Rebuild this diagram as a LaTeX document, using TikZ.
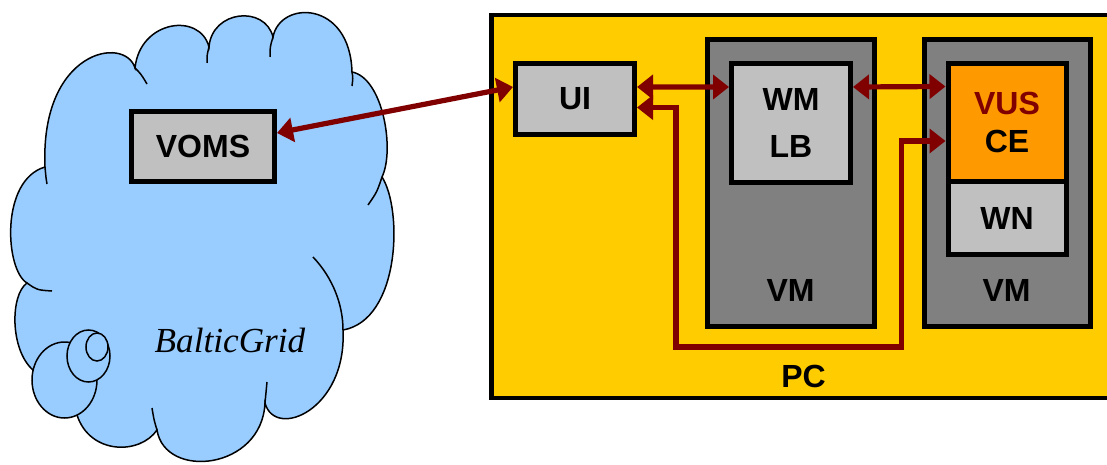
\documentclass[tikz,border=0pt]{standalone}
\usepackage{fontspec}
\setmainfont{Liberation Sans}
\newfontfamily\serifit{Liberation Serif}
\usetikzlibrary{arrows.meta}
\definecolor{cloudblue}{HTML}{99CCFF}
\definecolor{pcyellow}{HTML}{FFCC00}
\definecolor{vmgray}{HTML}{808080}
\definecolor{boxgray}{HTML}{C0C0C0}
\definecolor{ceorange}{HTML}{FF9900}
\definecolor{linkred}{HTML}{800000}
\begin{document}
\begin{tikzpicture}[x=0.5pt,y=-0.5pt,
  box/.style={draw=black, line width=2.5pt, fill=boxgray, inner sep=0pt, align=center,
    font=\fontsize{16pt}{24pt}\selectfont\bfseries},
  vmbox/.style={draw=black, line width=2.5pt, fill=vmgray, inner sep=0pt},
  pcbox/.style={draw=black, line width=2.3pt, fill=pcyellow, inner sep=0pt},
  lbl/.style={inner sep=0pt, font=\fontsize{16pt}{19pt}\selectfont\bfseries},
  tipa/.tip={Triangle[length=8pt,width=12pt]},
  link/.style={draw=linkred, line width=2.6pt, tipa-tipa},
  cloudline/.style={draw=black, line width=0.75pt}
]
\useasboundingbox (0,0) rectangle (1107,465);
\clip (0,0) rectangle (1107,465);

% ---------- cloud ----------
\filldraw[fill=cloudblue, cloudline]
  (45,167) .. controls (40,50) and (125,35) .. (135,68)
  .. controls (140,20) and (200,12) .. (209,47)
  .. controls (212,10) and (265,5) .. (273,37)
  .. controls (280,0) and (350,0) .. (352,72)
  .. controls (383,78) and (395,150) .. (382,177)
  .. controls (403,210) and (400,320) .. (343,330)
  .. controls (347,410) and (275,440) .. (265,403)
  .. controls (262,470) and (165,480) .. (157,430)
  .. controls (140,455) and (90,455) .. (77,415)
  .. controls (55,405) and (40,390) .. (33,370)
  .. controls (10,350) and (10,295) .. (27,283)
  .. controls (5,270) and (0,180) .. (45,167) -- cycle;
% inner arcs of the cloud
\draw[cloudline] (47,184) .. controls (46,178) .. (45,167);
\draw[cloudline] (135,68) .. controls (141,74) .. (147,84);
\draw[cloudline] (209,47) .. controls (207,55) .. (207,63);
\draw[cloudline] (273,37) .. controls (270,47) .. (270,57);
\draw[cloudline] (352,72) .. controls (353,78) .. (352,86);
\draw[cloudline] (382,177) .. controls (377,192) .. (368,205);
\draw[cloudline] (313,257) .. controls (333,278) and (343,305) .. (343,330);
\draw[cloudline] (267,382) .. controls (266,392) .. (265,403);
\draw[cloudline] (157,430) .. controls (154,420) .. (152,408);
\draw[cloudline] (27,283) .. controls (37,290) .. (52,291);
% thought bubbles
\filldraw[fill=cloudblue, cloudline] (64.5,380) ellipse [x radius=16.25pt, y radius=19pt];
\filldraw[fill=cloudblue, cloudline] (88.5,356) ellipse [x radius=10.75pt, y radius=13pt];
\filldraw[fill=cloudblue, cloudline] (97,347) ellipse [x radius=5.5pt, y radius=7pt];

\node[anchor=base, inner sep=0pt, font=\fontsize{17.6pt}{20pt}\serifit\itshape] (bg) at (230,352) {BalticGrid};

\node[box, minimum width=71.5pt, minimum height=35pt] (voms) at (203,146.5) {VOMS};

% ---------- PC ----------
\node[pcbox, minimum width=316.75pt, minimum height=191.5pt] (pc) at (808.25,206.5) {};
\node[lbl] (pclbl) at (803.5,376) {PC};

\node[vmbox, minimum width=83.5pt, minimum height=143.5pt] (vm1) at (791,183) {};
\node[vmbox, minimum width=83pt, minimum height=143.5pt] (vm2) at (1007.5,183) {};
\node[lbl] (vm1lbl) at (790.5,290.5) {VM};
\node[lbl] (vm2lbl) at (1006.5,290.5) {VM};

\node[box, minimum width=59.5pt, minimum height=35.5pt] (ui) at (575,98.7) {UI};
\node[box, minimum width=59.5pt, minimum height=59.5pt,
      font=\fontsize{16pt}{23.5pt}\selectfont\bfseries] (wmlb) at (791,123) {WM\\LB};
\node[box, fill=ceorange, minimum width=59pt, minimum height=59pt,
      font=\fontsize{16pt}{19pt}\selectfont\bfseries] (vusce) at (1007,122.5)
      {\textcolor{linkred}{VUS}\\CE};
\node[box, minimum width=59pt, minimum height=36.5pt] (wn) at (1007,218) {WN};

% ---------- connectors ----------
\draw[link] ([yshift=6.75pt]voms.east) -- ([yshift=5.85pt]ui.west);
\draw[link] ([yshift=5.85pt]ui.east) -- ([yshift=18pt]wmlb.west);
\draw[link] ([yshift=18pt]wmlb.east) -- ([yshift=18pt]vusce.west);
\coordinate (r1) at (676,347);
\coordinate (r2) at (901.5,347);
\draw[link] ([yshift=-4.4pt]ui.east) -| (r1) -- (r2) |- ([yshift=-9.25pt]vusce.west);
\end{tikzpicture}
\end{document}
